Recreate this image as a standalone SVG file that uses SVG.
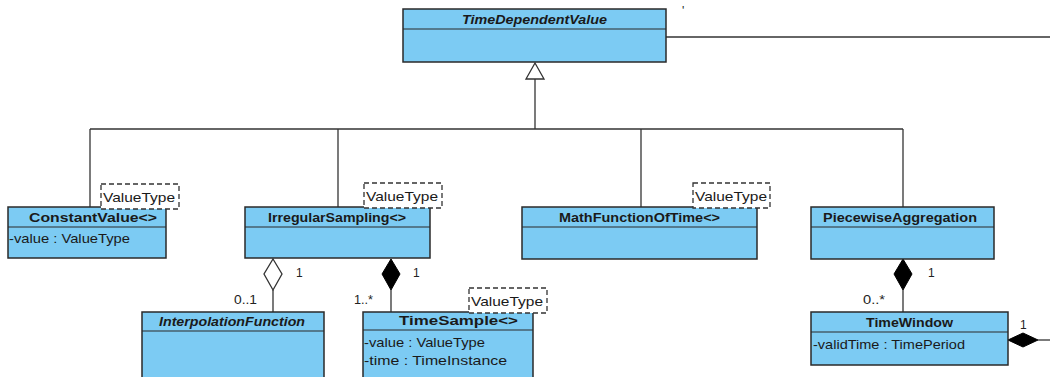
<svg xmlns="http://www.w3.org/2000/svg" width="1050" height="377" viewBox="0 0 1050 377">
  <style>
    .cls { fill: #7ccbf3; stroke: #2a2a2a; stroke-width: 1.5; }
    .div { stroke: #2a2a2a; stroke-width: 1.2; }
    .name { font-family: "Liberation Sans", Arial, sans-serif; font-size: 13px; font-weight: bold; fill: #1a1a1a; }
    .abstract { font-style: italic; }
    .attr { font-family: "Liberation Sans", Arial, sans-serif; font-size: 13px; fill: #1a1a1a; }
    .tpl { fill: #ffffff; stroke: #333333; stroke-width: 1.3; stroke-dasharray: 5 3; }
    .tpltxt { font-family: "Liberation Sans", Arial, sans-serif; font-size: 13px; fill: #1a1a1a; }
    .line { fill: none; stroke: #333333; stroke-width: 1.3; }
    .mult { font-family: "Liberation Sans", Arial, sans-serif; font-size: 12px; fill: #222222; }
  </style>

  <rect width="1050" height="377" fill="#ffffff"/>

  <!-- connectors -->
  <g id="connectors">
    <!-- generalization tree -->
    <polygon points="535,63 526,79 544,79" fill="#ffffff" stroke="#333333" stroke-width="1.3"/>
    <line class="line" x1="535" y1="79" x2="535" y2="129"/>
    <line class="line" x1="90" y1="129" x2="903" y2="129"/>
    <line class="line" x1="90" y1="129" x2="90" y2="207"/>
    <line class="line" x1="338" y1="129" x2="338" y2="207"/>
    <line class="line" x1="641" y1="129" x2="641" y2="207"/>
    <line class="line" x1="903" y1="129" x2="903" y2="207"/>
    <!-- association leaving TimeDependentValue -->
    <line class="line" x1="666" y1="37" x2="1050" y2="37"/>
    <text class="mult" x="682" y="15">'</text>
    <!-- aggregation IrregularSampling - InterpolationFunction -->
    <polygon points="273,259 282,274 273,290 264,274" fill="#ffffff" stroke="#333333" stroke-width="1.3"/>
    <line class="line" x1="273" y1="290" x2="273" y2="312"/>
    <text class="mult" x="296" y="277">1</text>
    <text class="mult" x="234" y="304" textLength="23" lengthAdjust="spacingAndGlyphs">0..1</text>
    <!-- composition IrregularSampling - TimeSample -->
    <polygon points="391,259 400,274 391,290 382,274" fill="#000000" stroke="#000000" stroke-width="1"/>
    <line class="line" x1="391" y1="290" x2="391" y2="312"/>
    <text class="mult" x="413" y="277">1</text>
    <text class="mult" x="354" y="304" textLength="19" lengthAdjust="spacingAndGlyphs">1..*</text>
    <!-- composition PiecewiseAggregation - TimeWindow -->
    <polygon points="903,259 912,274 903,290 894,274" fill="#000000" stroke="#000000" stroke-width="1"/>
    <line class="line" x1="903" y1="290" x2="903" y2="312"/>
    <text class="mult" x="928" y="277">1</text>
    <text class="mult" x="863" y="304" textLength="22" lengthAdjust="spacingAndGlyphs">0..*</text>
    <!-- composition on TimeWindow right side -->
    <polygon points="1008,340 1023,333 1038,340 1023,347" fill="#000000" stroke="#000000" stroke-width="1"/>
    <line class="line" x1="1038" y1="340" x2="1050" y2="340"/>
    <text class="mult" x="1020" y="329">1</text>
  </g>

  <g id="TimeDependentValue">
    <rect class="cls" x="403" y="9" width="263" height="53"/>
    <line class="div" x1="403" y1="29" x2="666" y2="29"/>
    <text class="name abstract" x="462" y="24" textLength="145" lengthAdjust="spacingAndGlyphs">TimeDependentValue</text>
  </g>

  <g id="ConstantValue">
    <rect class="cls" x="8" y="207" width="158" height="51"/>
    <line class="div" x1="8" y1="227" x2="166" y2="227"/>
    <text class="name" x="29" y="222" textLength="128" lengthAdjust="spacingAndGlyphs">ConstantValue&lt;&gt;</text>
    <text class="attr" x="9" y="243" textLength="121" lengthAdjust="spacingAndGlyphs">-value : ValueType</text>
    <rect class="tpl" x="101" y="184" width="78" height="25"/>
    <text class="tpltxt" x="103" y="202" textLength="72" lengthAdjust="spacingAndGlyphs">ValueType</text>
  </g>

  <g id="IrregularSampling">
    <rect class="cls" x="245" y="207" width="185" height="51"/>
    <line class="div" x1="245" y1="227" x2="430" y2="227"/>
    <text class="name" x="268" y="222" textLength="138" lengthAdjust="spacingAndGlyphs">IrregularSampling&lt;&gt;</text>
    <rect class="tpl" x="364" y="183" width="78" height="25"/>
    <text class="tpltxt" x="366" y="201" textLength="72" lengthAdjust="spacingAndGlyphs">ValueType</text>
  </g>

  <g id="MathFunctionOfTime">
    <rect class="cls" x="522" y="207" width="235" height="52"/>
    <line class="div" x1="522" y1="227" x2="757" y2="227"/>
    <text class="name" x="559" y="222" textLength="161" lengthAdjust="spacingAndGlyphs">MathFunctionOfTime&lt;&gt;</text>
    <rect class="tpl" x="693" y="183" width="77" height="25"/>
    <text class="tpltxt" x="695" y="201" textLength="72" lengthAdjust="spacingAndGlyphs">ValueType</text>
  </g>

  <g id="PiecewiseAggregation">
    <rect class="cls" x="811" y="207" width="183" height="52"/>
    <line class="div" x1="811" y1="227" x2="994" y2="227"/>
    <text class="name" x="823" y="222" textLength="154" lengthAdjust="spacingAndGlyphs">PiecewiseAggregation</text>
  </g>

  <g id="InterpolationFunction">
    <rect class="cls" x="142" y="312" width="182" height="70"/>
    <line class="div" x1="142" y1="331" x2="324" y2="331"/>
    <text class="name abstract" x="159" y="326" textLength="146" lengthAdjust="spacingAndGlyphs">InterpolationFunction</text>
  </g>

  <g id="TimeSample">
    <rect class="cls" x="363" y="312" width="170" height="70"/>
    <line class="div" x1="363" y1="330" x2="533" y2="330"/>
    <text class="name" x="399" y="325" textLength="119" lengthAdjust="spacingAndGlyphs">TimeSample&lt;&gt;</text>
    <text class="attr" x="364" y="347" textLength="121" lengthAdjust="spacingAndGlyphs">-value : ValueType</text>
    <text class="attr" x="364" y="365" textLength="143" lengthAdjust="spacingAndGlyphs">-time : TimeInstance</text>
    <rect class="tpl" x="469" y="288" width="78" height="25"/>
    <text class="tpltxt" x="471" y="306" textLength="72" lengthAdjust="spacingAndGlyphs">ValueType</text>
  </g>

  <g id="TimeWindow">
    <rect class="cls" x="811" y="312" width="197" height="53"/>
    <line class="div" x1="811" y1="332" x2="1008" y2="332"/>
    <text class="name" x="866" y="327" textLength="87" lengthAdjust="spacingAndGlyphs">TimeWindow</text>
    <text class="attr" x="813" y="349" textLength="152" lengthAdjust="spacingAndGlyphs">-validTime : TimePeriod</text>
  </g>
</svg>
